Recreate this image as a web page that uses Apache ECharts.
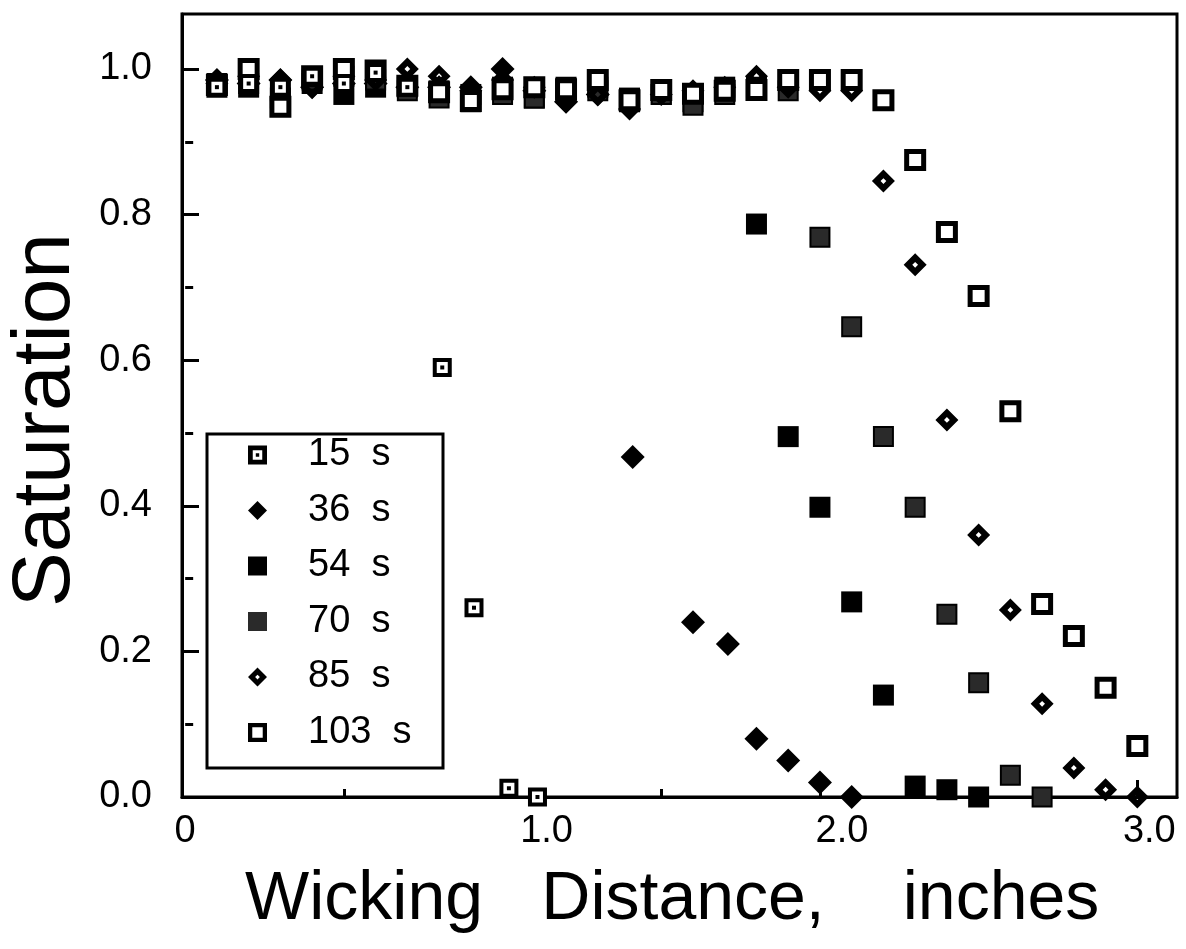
<!DOCTYPE html>
<html><head><meta charset="utf-8">
<script src="https://cdn.jsdelivr.net/npm/echarts@6/dist/echarts.min.js"></script>
<style>html,body{margin:0;padding:0;background:#fff}#c{width:1186px;height:949px}</style>
</head><body><div id="c"></div>
<script>
const FONT = '"Liberation Sans", Arial, Helvetica, sans-serif';

// ---- data ----
const seriesNames = ['15 s', '36 s', '54 s', '70 s', '85 s', '103 s'];

const x15 = [0.1, 0.2, 0.3, 0.4, 0.5, 0.6, 0.7, 0.81, 0.91, 1.02, 1.11];
const y15 = [0.975, 0.98, 0.975, 0.99, 0.98, 0.995, 0.975, 0.59, 0.26, 0.012, 0.0];

const x36 = [0.1, 0.2, 0.3, 0.4, 0.5, 0.6, 0.7, 0.8, 0.9, 1.0, 1.1, 1.2, 1.3, 1.41, 1.6, 1.71, 1.8, 1.9, 2.0, 2.1];
const y36 = [0.985, 0.98, 0.985, 0.975, 0.98, 0.98, 0.975, 0.975, 0.975, 1.0, 0.97, 0.955, 0.965, 0.467, 0.24, 0.21, 0.08, 0.05, 0.02, 0.0];

const x54 = [0.1, 0.2, 0.3, 0.4, 0.5, 0.6, 0.7, 0.8, 0.9, 1.0, 1.1, 1.2, 1.3, 1.4, 1.5, 1.6, 1.7, 1.8, 1.9, 2.0, 2.1, 2.2, 2.3, 2.4, 2.5];
const y54 = [0.98, 0.975, 0.97, 0.98, 0.965, 0.975, 0.975, 0.97, 0.965, 0.975, 0.96, 0.97, 0.975, 0.96, 0.965, 0.955, 0.975, 0.787, 0.495, 0.398, 0.268, 0.14, 0.015, 0.01, 0.0];

const x70 = [0.1, 0.2, 0.3, 0.4, 0.5, 0.6, 0.7, 0.8, 0.9, 1.0, 1.1, 1.2, 1.3, 1.4, 1.5, 1.6, 1.7, 1.8, 1.9, 2.0, 2.1, 2.2, 2.3, 2.4, 2.5, 2.6, 2.7];
const y70 = [0.975, 0.98, 0.96, 0.985, 0.99, 0.985, 0.97, 0.96, 0.955, 0.965, 0.96, 0.975, 0.97, 0.955, 0.965, 0.95, 0.965, 0.975, 0.97, 0.769, 0.646, 0.495, 0.398, 0.251, 0.157, 0.03, 0.0];

const x85 = [0.1, 0.2, 0.3, 0.4, 0.5, 0.6, 0.7, 0.8, 0.9, 1.0, 1.1, 1.2, 1.3, 1.4, 1.5, 1.6, 1.7, 1.8, 1.9, 2.0, 2.1, 2.2, 2.3, 2.4, 2.5, 2.6, 2.7, 2.8, 2.9, 3.0];
const y85 = [0.98, 0.99, 0.985, 0.975, 0.99, 0.985, 1.0, 0.99, 0.97, 0.985, 0.975, 0.955, 0.965, 0.945, 0.965, 0.97, 0.975, 0.99, 0.975, 0.97, 0.97, 0.846, 0.731, 0.518, 0.36, 0.257, 0.128, 0.04, 0.01, 0.0];

const x103 = [0.1, 0.2, 0.3, 0.4, 0.5, 0.6, 0.7, 0.8, 0.9, 1.0, 1.1, 1.2, 1.3, 1.4, 1.5, 1.6, 1.7, 1.8, 1.9, 2.0, 2.1, 2.2, 2.3, 2.4, 2.5, 2.6, 2.7, 2.8, 2.9, 3.0];
const y103 = [0.978, 1.0, 0.948, 0.99, 1.0, 0.998, 0.977, 0.968, 0.956, 0.972, 0.975, 0.972, 0.985, 0.957, 0.971, 0.966, 0.97, 0.971, 0.985, 0.985, 0.985, 0.957, 0.875, 0.776, 0.688, 0.53, 0.265, 0.221, 0.15, 0.07];

const xLabelValues = [0, 1, 2, 3];
const xLabelTexts = ['0', '1.0', '2.0', '3.0'];
const xMajorTicks = [1, 2, 3];
const xMinorTicks = [0.5, 1.5, 2.5];
const yLabelValues = [0, 0.2, 0.4, 0.6, 0.8, 1.0];
const yMinorTicks = [0.1, 0.3, 0.5, 0.7, 0.9];

const xTitleWords = ['Wicking', 'Distance,', 'inches'];
const yTitle = 'Saturation';

// ---- helpers ----
function pairs(xs, ys) { return xs.map((x, i) => [x, ys[i]]); }

const P_RING_DOT = 'path://M0 0L20 0L20 20L0 20Z M5 5L5 15L15 15L15 5Z M8.2 8.2L11.8 8.2L11.8 11.8L8.2 11.8Z';
const P_RING = 'path://M0 0L20 0L20 20L0 20Z M4.5 4.5L4.5 15.5L15.5 15.5L15.5 4.5Z';
const P_DIAMOND_DOT = 'path://M12 0L24 12L12 24L0 12Z M12 9L9 12L12 15L15 12Z';

const chart = echarts.init(document.getElementById('c'), null, { renderer: 'canvas' });

const tickStyle = { color: '#000', width: 3 };
const labelFont = { fontFamily: FONT, fontSize: 38, color: '#000' };
const titleTextStyle = { font: '68px ' + FONT, fill: '#000', textAlign: 'center', textVerticalAlign: 'middle', align: 'center', verticalAlign: 'middle' };

const option = {
  animation: false,
  backgroundColor: '#fff',
  grid: { left: 182, top: 14, width: 995, height: 783, show: true, borderColor: '#000', borderWidth: 3, backgroundColor: 'transparent' },
  xAxis: [
    {
      type: 'value', min: -0.01, max: 3.125, position: 'bottom',
      axisLine: { show: true, onZero: false, lineStyle: { color: '#000', width: 3 } },
      axisTick: { show: true, inside: true, length: 17, customValues: xMajorTicks, lineStyle: tickStyle },
      splitLine: { show: false },
      axisLabel: {
        customValues: xLabelValues, margin: 16,
        formatter: function (v) {
          const i = xLabelValues.indexOf(Math.round(v));
          const key = ['z', 'a', 'b', 'c'][i];
          return '{' + key + '|' + xLabelTexts[i] + '}';
        },
        rich: {
          z: Object.assign({}, labelFont),
          a: Object.assign({ padding: [0, 0, 0, 88] }, labelFont),
          b: Object.assign({ padding: [0, 0, 0, 44] }, labelFont),
          c: Object.assign({ padding: [0, 0, 0, 24] }, labelFont)
        }
      }
    },
    {
      type: 'value', min: -0.01, max: 3.125, position: 'bottom',
      axisLine: { show: false },
      axisTick: { show: true, inside: true, length: 8, customValues: xMinorTicks, lineStyle: tickStyle },
      axisLabel: { show: false }, splitLine: { show: false }
    }
  ],
  yAxis: [
    {
      type: 'value', min: 0, max: 1.0755, position: 'left',
      axisLine: { show: true, onZero: false, lineStyle: { color: '#000', width: 3 } },
      axisTick: { show: true, inside: true, length: 17, customValues: yLabelValues, lineStyle: tickStyle },
      splitLine: { show: false },
      axisLabel: Object.assign({ customValues: yLabelValues, margin: 30, formatter: v => v.toFixed(1) }, labelFont)
    },
    {
      type: 'value', min: 0, max: 1.0755, position: 'left',
      axisLine: { show: false },
      axisTick: { show: true, inside: true, length: 8, customValues: yMinorTicks, lineStyle: tickStyle },
      axisLabel: { show: false }, splitLine: { show: false }
    }
  ],
  legend: {
    orient: 'vertical', left: 248, top: 436, padding: 0,
    itemWidth: 19, itemHeight: 19, itemGap: 17.5, selectedMode: false,
    formatter: name => name.replace(' ', '  '),
    textStyle: { fontFamily: FONT, fontSize: 38, color: '#000', lineHeight: 38, padding: [0, 0, 0, 36] },
    data: [
      { name: seriesNames[0], icon: P_RING_DOT, itemStyle: { color: '#000', borderWidth: 0 } },
      { name: seriesNames[1], icon: 'diamond', itemStyle: { color: '#000', borderWidth: 0 } },
      { name: seriesNames[2], icon: 'rect', itemStyle: { color: '#000', borderWidth: 0 } },
      { name: seriesNames[3], icon: 'rect', itemStyle: { color: '#2a2a2a', borderWidth: 0 } },
      { name: seriesNames[4], icon: P_DIAMOND_DOT, itemStyle: { color: '#000', borderWidth: 0 } },
      { name: seriesNames[5], icon: P_RING, itemStyle: { color: '#000', borderWidth: 0 } }
    ]
  },
  graphic: [
    { type: 'rect', z: 1, shape: { x: 207, y: 434, width: 236, height: 334 }, style: { fill: '#fff', stroke: '#000', lineWidth: 3 } },
    { type: 'text', x: 46, y: 420, rotation: Math.PI / 2,
      style: { text: yTitle, font: '82px ' + FONT, fill: '#000', textAlign: 'center', textVerticalAlign: 'middle', align: 'center', verticalAlign: 'middle' } },
    { type: 'text', x: 364, y: 900, style: Object.assign({ text: xTitleWords[0] }, titleTextStyle) },
    { type: 'text', x: 683, y: 900, style: Object.assign({ text: xTitleWords[1] }, titleTextStyle) },
    { type: 'text', x: 1001, y: 900, style: Object.assign({ text: xTitleWords[2] }, titleTextStyle) }
  ],
  series: [
    { name: seriesNames[1], type: 'scatter', data: pairs(x36, y36), symbol: 'diamond', symbolSize: 24, itemStyle: { color: '#000', opacity: 1 }, z: 2 },
    { name: seriesNames[2], type: 'scatter', data: pairs(x54, y54), symbol: 'rect', symbolSize: 21, itemStyle: { color: '#000', opacity: 1 }, z: 2 },
    { name: seriesNames[3], type: 'scatter', data: pairs(x70, y70), symbol: 'rect', symbolSize: 19, itemStyle: { color: '#2a2a2a', borderColor: '#000', borderWidth: 2, opacity: 1 }, z: 2 },
    { name: seriesNames[4], type: 'scatter', data: pairs(x85, y85), symbol: P_DIAMOND_DOT, symbolSize: 23, itemStyle: { color: '#000', opacity: 1 }, z: 2 },
    { name: seriesNames[5], type: 'scatter', data: pairs(x103, y103), symbol: 'rect', symbolSize: 17, itemStyle: { color: '#fff', borderColor: '#000', borderWidth: 5, opacity: 1 }, z: 3 },
    { name: seriesNames[0], type: 'scatter', data: pairs(x15, y15), symbol: 'rect', symbolSize: 15, itemStyle: { color: '#fff', borderColor: '#000', borderWidth: 4, opacity: 1 }, z: 3 },
    { name: '15 s center', type: 'scatter', data: pairs(x15, y15), symbol: 'rect', symbolSize: 4, itemStyle: { color: '#000', opacity: 1 }, z: 4, silent: true }
  ]
};
chart.setOption(option);
</script>
</body></html>
